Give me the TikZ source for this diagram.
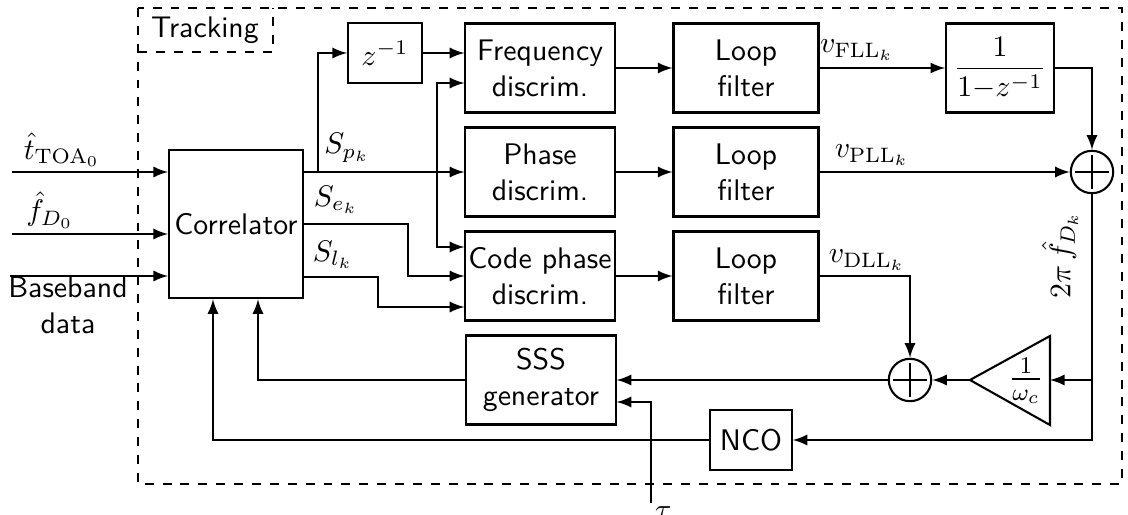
\documentclass[tikz,border=0pt]{standalone}
\usepackage{amsmath,amssymb}
\usetikzlibrary{calc}

\begin{document}
\begin{tikzpicture}[
    x=0.0118cm, y=-0.0118cm, font=\sffamily, >=latex,
    line width=0.7pt,
    blk/.style={draw, align=center, inner sep=1pt,
                minimum width=1.76cm, minimum height=1.05cm},
    filt/.style={blk, minimum width=1.71cm},
    sumnode/.style={draw, circle, minimum size=0.5cm, inner sep=0pt,
        path picture={
          \draw ([yshift=-1.5pt]path picture bounding box.north)
             -- ([yshift=1.5pt]path picture bounding box.south);
          \draw ([xshift=1.5pt]path picture bounding box.west)
             -- ([xshift=-1.5pt]path picture bounding box.east);}},
    lbl/.style={inner sep=1pt},
]
\useasboundingbox (0,0) rectangle (1128,515);

% Tracking frame
\draw[dashed] (138,8) rectangle (1122,484);
\draw[dashed] (138,52) -| (273,8);
\node (track) at (205,30) {Tracking};

% Blocks
\node[blk, minimum width=1.58cm, minimum height=1.75cm] (corr) at (236,224) {Correlator};
\node[blk, minimum width=0.87cm, minimum height=0.70cm] (zinv) at (385,53) {$z^{-1}$};
\node[blk] (fdisc) at (540,68)  {Frequency\\discrim.};
\node[blk] (pdisc) at (540,172) {Phase\\discrim.};
\node[blk] (cdisc) at (540,276) {Code phase\\discrim.};
\node[blk] (sss)   at (541,380) {SSS\\generator};
\node[filt] (lf1) at (746,68)  {Loop\\filter};
\node[filt] (lf2) at (746,172) {Loop\\filter};
\node[filt] (lf3) at (746,276) {Loop\\filter};
\node[blk, minimum width=1.27cm] (integ) at (1000,68) {$\dfrac{1}{1{-}z^{-1}}$};
\node[sumnode] (sum1) at (1092,172) {};
\node[sumnode] (sum2) at (910,380) {};
\node[blk, minimum width=0.96cm, minimum height=0.71cm] (nco) at (751,440) {NCO};

% Gain triangle
\coordinate (gainA) at (970,380);
\coordinate (gainR) at (1050,380);
\draw (gainA) -- (1050,336) -- (1050,425) -- cycle;
\node[font=\large] (gain) at (1026,381) {$\frac{1}{\omega_c}$};

% Inputs
\coordinate (inT) at (12,172);
\coordinate (inF) at (12,234);
\coordinate (inB) at (10,276);
\draw[->] (inT) -- (inT -| corr.west);
\draw[->] (inF) -- (inF -| corr.west);
\draw[->] (inB) -- (inB -| corr.west);
\node[lbl] (lT) at (62,150) {$\hat{t}_{\mathrm{TOA}_0}$};
\node[lbl] (lF) at (50,210) {$\hat{f}_{D_0}$};
\node[lbl, align=center] (lB) at (68,305) {Baseband\\data};

% Correlator outputs
\coordinate (spb) at (318,172);
\coordinate (spv) at (437,172);
\draw[->] (corr.east |- pdisc.west) -- (pdisc.west);
\draw[->] (spb) |- (zinv.west);
\draw[->] (zinv.east) -- (zinv.east -| fdisc.west);
\draw[->] (spv) |- ($(fdisc.west)+(0,15)$);
\draw[->] (spv) |- ($(cdisc.west)+(0,-29)$);
\draw[->] (corr.east) -- ++(104,0) |- (cdisc.west);
\draw[->] ($(corr.east)+(0,53)$) -- ++(74,0) |- ($(cdisc.west)+(0,31)$);
\node[lbl] (lSp) at (347,148) {$S_{p_k}$};
\node[lbl] (lSe) at (336,200) {$S_{e_k}$};
\node[lbl] (lSl) at (333,255) {$S_{l_k}$};

% Discriminators to loop filters
\draw[->] (fdisc) -- (lf1);
\draw[->] (pdisc) -- (lf2);
\draw[->] (cdisc) -- (lf3);

% Loop filter outputs
\draw[->] (lf1) -- (integ);
\draw[->] (integ.east) -| (sum1.north);
\draw[->] (lf2) -- (sum1);
\draw[->] (lf3.east) -| (sum2.north);
\node[lbl] (lvF) at (857,50)  {$v_{\mathrm{FLL}_k}$};
\node[lbl] (lvP) at (872,155) {$v_{\mathrm{PLL}_k}$};
\node[lbl] (lvD) at (867,260) {$v_{\mathrm{DLL}_k}$};

% Feedback
\coordinate (fb) at (sum1.south |- sum2);
\draw[->] (sum1.south) |- (nco.east);
\draw[->] (fb) -- (gainR);
\draw[->] (gainA) -- (sum2.east);
\draw[->] (sum2) -- (sss);
\node[lbl, rotate=90] (lfD) at (1060,255) {$2\pi\,\hat{f}_{D_k}$};

\coordinate (tau) at (651,503);
\draw[->] (tau) |- ($(sss.east)+(0,22)$);
\node[lbl, anchor=north west] (ltau) at (tau) {$\tau$};

\draw[->] (sss.west) -| ($(corr.south)+(22,0)$);
\draw[->] (nco.west) -| ($(corr.south)+(-23,0)$);
\end{tikzpicture}
\end{document}
